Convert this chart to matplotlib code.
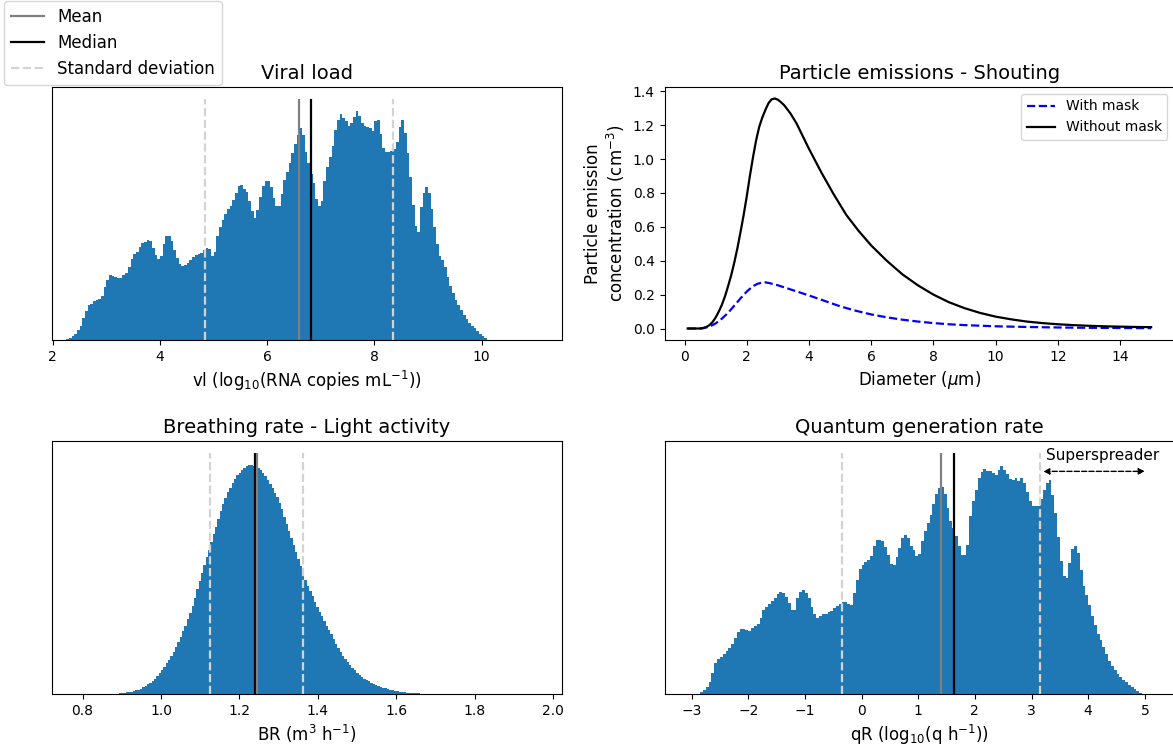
import numpy as np
import matplotlib
matplotlib.use("Agg")
import matplotlib.pyplot as plt
from matplotlib.lines import Line2D

# ---------------- data ----------------
# Viral load histogram (relative heights, bin width 0.05 starting at 2.20)
vl_start, vl_width = 2.20, 0.05
vl_heights = [
    0.1, 0.4, 0.9, 1.5, 2.5, 4.0, 5.8, 9.0, 12.0, 14.6,
    15.1, 16.1, 16.5, 17.0, 18.4, 21.8, 25.0, 27.0, 26.7, 26.2,
    25.9, 25.9, 27.0, 27.6, 30.4, 33.8, 35.6, 36.6, 38.8, 40.3,
    40.6, 41.4, 41.0, 38.3, 35.2, 33.5, 34.8, 40.0, 43.2, 43.3,
    41.0, 37.3, 34.0, 31.6, 30.7, 31.2, 32.1, 33.0, 34.3, 35.2,
    35.5, 35.9, 37.3, 38.1, 37.9, 35.0, 36.5, 43.2, 47.0, 49.8,
    52.1, 54.3, 55.5, 57.9, 61.0, 64.0, 64.5, 62.6, 61.6, 57.8,
    53.4, 50.5, 53.8, 59.3, 64.0, 65.8, 65.8, 63.3, 58.8, 55.8,
    55.6, 60.5, 66.6, 69.8, 73.4, 77.5, 81.5, 85.2, 88.0, 85.0,
    78.0, 73.5, 69.0, 65.0, 58.5, 55.5, 57.8, 66.0, 71.6, 75.8,
    80.5, 87.0, 91.5, 94.0, 92.0, 91.0, 88.7, 90.0, 92.5, 95.0,
    93.0, 90.0, 88.8, 88.6, 87.9, 86.9, 91.0, 91.2, 85.5, 79.5,
    77.9, 78.0, 78.4, 79.1, 82.0, 88.5, 91.4, 86.0, 77.5, 67.5,
    56.0, 47.5, 45.0, 55.0, 61.0, 63.3, 61.0, 54.5, 47.0, 40.0,
    35.0, 33.0, 30.5, 26.0, 22.5, 19.7, 16.8, 14.5, 12.4, 10.5,
    8.8, 7.1, 5.9, 5.0, 3.8, 2.6, 1.6, 0.7, 0.2,
]
vl_stats = {"mean": 6.595, "median": 6.813, "std": 1.75}

# Breathing rate histogram (bin width 0.006 starting at 0.88)
br_start, br_width = 0.88, 0.006
br_heights = [
    0.1, 0.15, 0.3, 0.45, 0.6, 0.7, 0.85, 1.0, 1.2, 1.5,
    1.8, 2.2, 2.7, 3.3, 4.0, 4.6, 5.4, 6.3, 7.4, 8.7,
    9.9, 11.3, 12.7, 14.2, 15.9, 17.6, 19.4, 21.6, 23.8, 26.0,
    28.4, 31.0, 33.6, 36.6, 40.0, 43.4, 47.0, 50.4, 53.6, 56.8,
    59.9, 63.0, 66.3, 69.4, 72.6, 75.8, 78.8, 81.4, 83.8, 85.7,
    87.6, 89.4, 90.8, 91.9, 93.0, 93.8, 94.6, 95.2, 95.0, 94.8,
    94.3, 93.9, 93.0, 91.8, 90.5, 88.9, 87.2, 85.5, 83.6, 81.6,
    79.4, 76.6, 73.6, 70.7, 67.8, 64.8, 61.8, 58.9, 56.0, 53.0,
    50.1, 47.2, 44.8, 42.6, 40.5, 38.3, 36.1, 34.1, 32.2, 30.2,
    28.4, 26.6, 24.7, 22.7, 20.8, 19.0, 17.4, 15.9, 14.4, 13.1,
    11.9, 10.9, 9.9, 8.9, 8.0, 7.2, 6.4, 5.8, 5.2, 4.7,
    4.1, 3.6, 3.2, 2.9, 2.6, 2.3, 2.0, 1.8, 1.5, 1.3,
    1.1, 0.95, 0.8, 0.7, 0.55, 0.45, 0.38, 0.32, 0.27, 0.22,
    0.18, 0.15, 0.12, 0.1, 0.08, 0.06, 0.04,
]
br_stats = {"mean": 1.2445, "median": 1.240, "std": 0.1185}

# Quantum generation rate histogram (bin width 0.05 starting at -2.90)
qr_start, qr_width = -2.90, 0.05
qr_heights = [
    0.2, 0.7, 1.5, 2.8, 5.0, 8.8, 12.8, 14.4, 15.3, 16.5,
    17.8, 18.9, 20.8, 23.2, 25.6, 26.9, 26.9, 26.5, 26.0, 27.2,
    28.1, 29.0, 31.5, 35.0, 36.3, 37.2, 38.6, 39.8, 41.3, 42.2,
    41.8, 40.2, 37.8, 35.0, 34.8, 39.8, 42.4, 43.0, 41.8, 39.8,
    36.2, 33.2, 31.6, 32.4, 33.0, 33.4, 33.9, 34.6, 35.6, 36.5,
    37.5, 38.3, 38.0, 37.2, 37.1, 42.0, 47.5, 51.8, 53.5, 54.8,
    55.7, 57.4, 61.5, 63.8, 64.0, 63.4, 61.0, 57.5, 53.8, 53.5,
    56.8, 60.5, 64.7, 66.1, 64.8, 61.6, 59.8, 57.3, 58.2, 63.5,
    67.7, 70.8, 74.3, 78.9, 82.9, 85.3, 86.0, 83.0, 77.0, 72.0,
    69.0, 65.5, 61.5, 57.8, 57.8, 62.0, 74.0, 80.0, 84.5, 89.5,
    92.0, 93.2, 92.6, 92.4, 91.7, 91.0, 92.8, 94.5, 92.8, 91.2,
    89.3, 89.0, 89.8, 88.5, 89.8, 87.6, 84.0, 80.3, 78.1, 77.9,
    78.2, 80.8, 84.8, 87.5, 88.8, 82.5, 75.0, 65.0, 55.0, 49.0,
    48.1, 54.5, 60.2, 61.5, 58.4, 51.5, 45.0, 41.0, 37.0, 32.5,
    28.5, 25.0, 22.3, 19.3, 16.5, 13.5, 11.5, 9.8, 8.2, 7.0,
    6.0, 4.9, 3.9, 2.9, 2.0, 1.3, 0.6,
]
qr_stats = {"mean": 1.41, "median": 1.63, "std": 1.747}

# Particle emission curves (diameter in um, concentration in cm^-3)
diam_nomask = [0.1, 0.5, 0.6, 0.7, 0.8, 0.9, 1.0, 1.1, 1.2, 1.3,
               1.4, 1.5, 1.6, 1.7, 1.8, 1.9, 2.0, 2.1, 2.2, 2.3,
               2.4, 2.5, 2.6, 2.7, 2.8, 2.9, 3.0, 3.1, 3.2, 3.4,
               3.6, 3.8, 4.0, 4.2, 4.4, 4.6, 4.8, 5.0, 5.2, 5.6,
               6.0, 6.5, 7.0, 7.5, 8.0, 8.5, 9.0, 9.5, 10.0, 10.5,
               11.0, 11.5, 12.0, 12.5, 13.0, 13.5, 14.0, 14.5, 15.0]
conc_nomask = [0.0, 0.0, 0.003, 0.009, 0.02, 0.038, 0.065, 0.10, 0.14, 0.19,
               0.25, 0.315, 0.39, 0.475, 0.57, 0.67, 0.78, 0.90, 1.01, 1.11,
               1.19, 1.245, 1.29, 1.33, 1.352, 1.357, 1.35, 1.335, 1.318, 1.27,
               1.21, 1.135, 1.06, 0.99, 0.92, 0.855, 0.79, 0.73, 0.67, 0.575,
               0.49, 0.40, 0.32, 0.255, 0.20, 0.155, 0.12, 0.092, 0.07, 0.054,
               0.041, 0.032, 0.025, 0.02, 0.016, 0.013, 0.011, 0.009, 0.008]
diam_mask = [0.1, 0.5, 0.6, 0.8, 1.0, 1.2, 1.4, 1.6, 1.8, 2.0,
             2.2, 2.35, 2.5, 2.6, 2.7, 2.85, 3.0, 3.5, 4.0, 4.5,
             5.0, 5.5, 6.0, 6.5, 7.0, 7.5, 8.0, 8.5, 9.0, 10.0,
             11.0, 12.0, 13.0, 14.0, 15.0]
conc_mask = [0.0, 0.0, 0.002, 0.011, 0.03, 0.058, 0.093, 0.135, 0.178, 0.218,
             0.25, 0.264, 0.271, 0.272, 0.269, 0.262, 0.255, 0.225, 0.195, 0.163,
             0.131, 0.105, 0.083, 0.066, 0.052, 0.041, 0.032, 0.025, 0.02, 0.013,
             0.009, 0.006, 0.004, 0.003, 0.002]

STAT_TOP = 100.0  # height of the statistic markers

# ---------------- figure ----------------
W, H = 1173, 751
fig = plt.figure(figsize=(W / 100, H / 100), dpi=100)


def px_axes(left, right, top, bottom):
    return fig.add_axes([left / W, 1 - bottom / H, (right - left) / W, (bottom - top) / H])


def draw_hist(ax, start, width, heights, stats):
    heights = np.asarray(heights, dtype=float)
    edges = start + width * np.arange(len(heights) + 1)
    centers = 0.5 * (edges[:-1] + edges[1:])
    ax.hist(centers, bins=edges, weights=heights, color="#1f77b4")
    m, md, s = stats["mean"], stats["median"], stats["std"]
    ax.vlines([m - s, m + s], 0, STAT_TOP, colors="lightgray", linestyles="--", linewidth=1.6)
    ax.vlines(md, 0, STAT_TOP, colors="black", linewidth=1.6)
    ax.vlines(m, 0, STAT_TOP, colors="gray", linewidth=1.6)
    ax.set_ylim(0, STAT_TOP * 1.05)
    ax.set_yticks([])


TITLE_FS = 14
LABEL_FS = 12
TICK_FS = 10

ax_vl = px_axes(52, 562, 87, 340)
draw_hist(ax_vl, vl_start, vl_width, vl_heights, vl_stats)
ax_vl.set_xlim(1.985, 11.5)
ax_vl.set_xticks([2, 4, 6, 8, 10])
ax_vl.set_title("Viral load", fontsize=TITLE_FS)
ax_vl.set_xlabel(r"vl (log$_{10}$(RNA copies mL$^{-1}$))", fontsize=LABEL_FS)

ax_pe = px_axes(664.5, 1174.3, 87, 340)
ax_pe.plot(diam_mask, conc_mask, "--", color="blue", linewidth=1.6, label="With mask")
ax_pe.plot(diam_nomask, conc_nomask, "-", color="black", linewidth=1.6, label="Without mask")
ax_pe.set_title("Particle emissions - Shouting", fontsize=TITLE_FS)
ax_pe.set_xlabel(r"Diameter ($\mu$m)", fontsize=LABEL_FS)
ax_pe.set_ylabel("Particle emission\n" + r"concentration (cm$^{-3}$)", fontsize=LABEL_FS)
ax_pe.set_xticks(np.arange(0, 15, 2))
ax_pe.legend(loc="upper right", fontsize=10)

ax_br = px_axes(52, 562, 441, 694)
draw_hist(ax_br, br_start, br_width, br_heights, br_stats)
ax_br.set_xlim(0.722, 2.023)
ax_br.set_xticks([0.8, 1.0, 1.2, 1.4, 1.6, 1.8, 2.0])
ax_br.set_title("Breathing rate - Light activity", fontsize=TITLE_FS)
ax_br.set_xlabel(r"BR (m$^3$ h$^{-1}$)", fontsize=LABEL_FS)

ax_qr = px_axes(664.5, 1174.3, 441, 694)
draw_hist(ax_qr, qr_start, qr_width, qr_heights, qr_stats)
ax_qr.set_xlim(-3.478, 5.52)
ax_qr.set_xticks(np.arange(-3, 6, 1))
ax_qr.set_title("Quantum generation rate", fontsize=TITLE_FS)
ax_qr.set_xlabel(r"qR (log$_{10}$(q h$^{-1}$))", fontsize=LABEL_FS)
ss_left = qr_stats["mean"] + qr_stats["std"]
ax_qr.annotate("", xy=(5.0, 92.4), xytext=(ss_left + 0.05, 92.4),
               arrowprops=dict(arrowstyle="<|-|>", linestyle="--", color="black",
                               linewidth=1.0, mutation_scale=9, shrinkA=0, shrinkB=0))
ax_qr.text(ss_left + 0.09, 99.0, "Superspreader", fontsize=11, va="center", ha="left")

for ax in (ax_vl, ax_pe, ax_br, ax_qr):
    ax.tick_params(labelsize=TICK_FS)

handles = [
    Line2D([], [], color="gray", linewidth=1.6),
    Line2D([], [], color="black", linewidth=1.6),
    Line2D([], [], color="lightgray", linestyle="--", linewidth=1.6),
]
fig.legend(handles, ["Mean", "Median", "Standard deviation"], loc="upper left",
           bbox_to_anchor=(4 / W, 1 - 1 / H), fontsize=12, borderaxespad=0)

fig.savefig("out.png", dpi=100)
